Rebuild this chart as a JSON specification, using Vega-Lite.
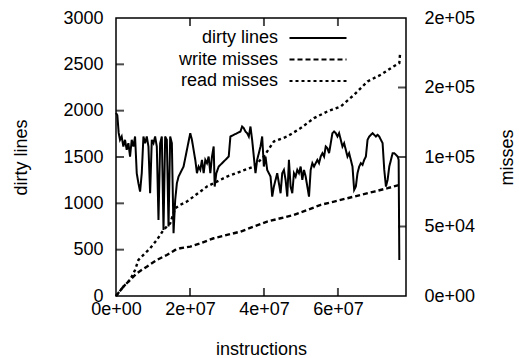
{
  "$schema": "https://vega.github.io/schema/vega-lite/v6.json",
  "autosize": {"type": "none"},
  "padding": {"left": 116, "top": 18, "right": 113, "bottom": 62},
  "width": 290,
  "height": 278,
  "background": "white",
  "config": {
    "view": {"stroke": "black", "strokeWidth": 1.5},
    "axis": {
      "domain": false, "ticks": false, "grid": false,
      "labelFont": "Liberation Sans", "labelFontSize": 18, "labelColor": "black",
      "titleFont": "Liberation Sans", "titleFontSize": 18, "titleFontWeight": "normal", "titleColor": "black",
      "labelFlush": false, "labelOverlap": false
    },
    "legend": {
      "labelFont": "Liberation Sans", "labelFontSize": 18, "labelColor": "black", "labelLimit": 300
    }
  },
  "data": {"values": [
    {"series":"dirty lines","instructions":0,"value":1975},
    {"series":"dirty lines","instructions":361720,"value":1950},
    {"series":"dirty lines","instructions":723440,"value":1760},
    {"series":"dirty lines","instructions":1085160,"value":1685},
    {"series":"dirty lines","instructions":1537310,"value":1721},
    {"series":"dirty lines","instructions":1989460,"value":1613},
    {"series":"dirty lines","instructions":2441610,"value":1685},
    {"series":"dirty lines","instructions":2893760,"value":1577},
    {"series":"dirty lines","instructions":3345910,"value":1649},
    {"series":"dirty lines","instructions":3798060,"value":1505},
    {"series":"dirty lines","instructions":4250210,"value":1685},
    {"series":"dirty lines","instructions":4702360,"value":1613},
    {"series":"dirty lines","instructions":5154510,"value":1721},
    {"series":"dirty lines","instructions":5606660,"value":1325},
    {"series":"dirty lines","instructions":6058810,"value":1217},
    {"series":"dirty lines","instructions":6510960,"value":1127},
    {"series":"dirty lines","instructions":6963110,"value":1325},
    {"series":"dirty lines","instructions":7415260,"value":1721},
    {"series":"dirty lines","instructions":7867410,"value":1649},
    {"series":"dirty lines","instructions":8319560,"value":1721},
    {"series":"dirty lines","instructions":8771710,"value":1613},
    {"series":"dirty lines","instructions":9223860,"value":1109},
    {"series":"dirty lines","instructions":9676010,"value":1685},
    {"series":"dirty lines","instructions":10128160,"value":1649},
    {"series":"dirty lines","instructions":10580310,"value":1721},
    {"series":"dirty lines","instructions":11032460,"value":1613},
    {"series":"dirty lines","instructions":11484610,"value":821},
    {"series":"dirty lines","instructions":11936760,"value":1649},
    {"series":"dirty lines","instructions":12388910,"value":1721},
    {"series":"dirty lines","instructions":12841060,"value":713},
    {"series":"dirty lines","instructions":13293210,"value":1721},
    {"series":"dirty lines","instructions":13745360,"value":1685},
    {"series":"dirty lines","instructions":14197510,"value":749},
    {"series":"dirty lines","instructions":14649660,"value":1721},
    {"series":"dirty lines","instructions":15101810,"value":1649},
    {"series":"dirty lines","instructions":15553960,"value":677},
    {"series":"dirty lines","instructions":16006110,"value":1037},
    {"series":"dirty lines","instructions":16458260,"value":1217},
    {"series":"dirty lines","instructions":16910410,"value":1289},
    {"series":"dirty lines","instructions":17362560,"value":1325},
    {"series":"dirty lines","instructions":18266860,"value":1397},
    {"series":"dirty lines","instructions":19171160,"value":1577},
    {"series":"dirty lines","instructions":20075460,"value":1757},
    {"series":"dirty lines","instructions":20527610,"value":1685},
    {"series":"dirty lines","instructions":20979760,"value":1577},
    {"series":"dirty lines","instructions":21431910,"value":1469},
    {"series":"dirty lines","instructions":21884060,"value":1325},
    {"series":"dirty lines","instructions":22336210,"value":1397},
    {"series":"dirty lines","instructions":22788360,"value":1361},
    {"series":"dirty lines","instructions":23240510,"value":1469},
    {"series":"dirty lines","instructions":23692660,"value":1325},
    {"series":"dirty lines","instructions":24144810,"value":1469},
    {"series":"dirty lines","instructions":24596960,"value":1433},
    {"series":"dirty lines","instructions":25049110,"value":1505},
    {"series":"dirty lines","instructions":25501260,"value":1325},
    {"series":"dirty lines","instructions":25953410,"value":1505},
    {"series":"dirty lines","instructions":26405560,"value":1613},
    {"series":"dirty lines","instructions":26676850,"value":1181},
    {"series":"dirty lines","instructions":27129000,"value":1325},
    {"series":"dirty lines","instructions":27762010,"value":1397},
    {"series":"dirty lines","instructions":28666310,"value":1433},
    {"series":"dirty lines","instructions":29570610,"value":1469},
    {"series":"dirty lines","instructions":30474910,"value":1505},
    {"series":"dirty lines","instructions":30927060,"value":1721},
    {"series":"dirty lines","instructions":31831360,"value":1739},
    {"series":"dirty lines","instructions":32735660,"value":1757},
    {"series":"dirty lines","instructions":33639960,"value":1775},
    {"series":"dirty lines","instructions":34092110,"value":1829},
    {"series":"dirty lines","instructions":34544260,"value":1811},
    {"series":"dirty lines","instructions":34996410,"value":1775},
    {"series":"dirty lines","instructions":35448560,"value":1757},
    {"series":"dirty lines","instructions":35900710,"value":1721},
    {"series":"dirty lines","instructions":36352860,"value":1829},
    {"series":"dirty lines","instructions":36805010,"value":1685},
    {"series":"dirty lines","instructions":37257160,"value":1505},
    {"series":"dirty lines","instructions":37709310,"value":1325},
    {"series":"dirty lines","instructions":38161460,"value":1469},
    {"series":"dirty lines","instructions":38613610,"value":1541},
    {"series":"dirty lines","instructions":39065760,"value":1613},
    {"series":"dirty lines","instructions":39517910,"value":1721},
    {"series":"dirty lines","instructions":39970060,"value":1397},
    {"series":"dirty lines","instructions":40422210,"value":1505},
    {"series":"dirty lines","instructions":40874360,"value":1361},
    {"series":"dirty lines","instructions":41326510,"value":1325},
    {"series":"dirty lines","instructions":41778660,"value":1289},
    {"series":"dirty lines","instructions":42230810,"value":1073},
    {"series":"dirty lines","instructions":42682960,"value":1181},
    {"series":"dirty lines","instructions":43135110,"value":1253},
    {"series":"dirty lines","instructions":43587260,"value":1325},
    {"series":"dirty lines","instructions":44039410,"value":1217},
    {"series":"dirty lines","instructions":44491560,"value":1109},
    {"series":"dirty lines","instructions":44943710,"value":1325},
    {"series":"dirty lines","instructions":45395860,"value":1361},
    {"series":"dirty lines","instructions":45848010,"value":1253},
    {"series":"dirty lines","instructions":46300160,"value":1073},
    {"series":"dirty lines","instructions":46752310,"value":1469},
    {"series":"dirty lines","instructions":47204460,"value":1181},
    {"series":"dirty lines","instructions":47656610,"value":1109},
    {"series":"dirty lines","instructions":48108760,"value":1325},
    {"series":"dirty lines","instructions":48560910,"value":1289},
    {"series":"dirty lines","instructions":49013060,"value":1361},
    {"series":"dirty lines","instructions":49465210,"value":1325},
    {"series":"dirty lines","instructions":49917360,"value":1397},
    {"series":"dirty lines","instructions":50369510,"value":1253},
    {"series":"dirty lines","instructions":50821660,"value":1361},
    {"series":"dirty lines","instructions":51273810,"value":1289},
    {"series":"dirty lines","instructions":51725960,"value":1181},
    {"series":"dirty lines","instructions":52178110,"value":1073},
    {"series":"dirty lines","instructions":52630260,"value":1361},
    {"series":"dirty lines","instructions":53082410,"value":1433},
    {"series":"dirty lines","instructions":53534560,"value":1397},
    {"series":"dirty lines","instructions":53986710,"value":1433},
    {"series":"dirty lines","instructions":54438860,"value":1469},
    {"series":"dirty lines","instructions":54891010,"value":1433},
    {"series":"dirty lines","instructions":55343160,"value":1505},
    {"series":"dirty lines","instructions":55795310,"value":1541},
    {"series":"dirty lines","instructions":56247460,"value":1505},
    {"series":"dirty lines","instructions":56699610,"value":1613},
    {"series":"dirty lines","instructions":57151760,"value":1595},
    {"series":"dirty lines","instructions":57603910,"value":1541},
    {"series":"dirty lines","instructions":58056060,"value":1649},
    {"series":"dirty lines","instructions":58508210,"value":1757},
    {"series":"dirty lines","instructions":58960360,"value":1775},
    {"series":"dirty lines","instructions":59412510,"value":1757},
    {"series":"dirty lines","instructions":59864660,"value":1721},
    {"series":"dirty lines","instructions":60316810,"value":1757},
    {"series":"dirty lines","instructions":60768960,"value":1685},
    {"series":"dirty lines","instructions":61221110,"value":1613},
    {"series":"dirty lines","instructions":61673260,"value":1649},
    {"series":"dirty lines","instructions":62125410,"value":1577},
    {"series":"dirty lines","instructions":62577560,"value":1505},
    {"series":"dirty lines","instructions":63029710,"value":1541},
    {"series":"dirty lines","instructions":63481860,"value":1469},
    {"series":"dirty lines","instructions":63934010,"value":1397},
    {"series":"dirty lines","instructions":64386160,"value":1145},
    {"series":"dirty lines","instructions":64838310,"value":1181},
    {"series":"dirty lines","instructions":65290460,"value":1325},
    {"series":"dirty lines","instructions":65742610,"value":1397},
    {"series":"dirty lines","instructions":66194760,"value":1433},
    {"series":"dirty lines","instructions":66646910,"value":1415},
    {"series":"dirty lines","instructions":67099060,"value":1469},
    {"series":"dirty lines","instructions":67551210,"value":1505},
    {"series":"dirty lines","instructions":68003360,"value":1685},
    {"series":"dirty lines","instructions":68455510,"value":1721},
    {"series":"dirty lines","instructions":68907660,"value":1739},
    {"series":"dirty lines","instructions":69359810,"value":1757},
    {"series":"dirty lines","instructions":69811960,"value":1739},
    {"series":"dirty lines","instructions":70264110,"value":1721},
    {"series":"dirty lines","instructions":70716260,"value":1739},
    {"series":"dirty lines","instructions":71168410,"value":1721},
    {"series":"dirty lines","instructions":71620560,"value":1685},
    {"series":"dirty lines","instructions":72072710,"value":1649},
    {"series":"dirty lines","instructions":72524860,"value":1361},
    {"series":"dirty lines","instructions":72977010,"value":1181},
    {"series":"dirty lines","instructions":73429160,"value":1253},
    {"series":"dirty lines","instructions":73881310,"value":1397},
    {"series":"dirty lines","instructions":74333460,"value":1469},
    {"series":"dirty lines","instructions":74785610,"value":1541},
    {"series":"dirty lines","instructions":75237760,"value":1541},
    {"series":"dirty lines","instructions":75689910,"value":1523},
    {"series":"dirty lines","instructions":76142060,"value":1505},
    {"series":"dirty lines","instructions":76413350,"value":1469},
    {"series":"dirty lines","instructions":76594210,"value":389},

    {"series":"write misses","instructions":0,"value":0},
    {"series":"write misses","instructions":1989460,"value":6723},
    {"series":"write misses","instructions":3798060,"value":11525},
    {"series":"write misses","instructions":5606660,"value":16327},
    {"series":"write misses","instructions":8319560,"value":21129},
    {"series":"write misses","instructions":11032460,"value":25931},
    {"series":"write misses","instructions":13745360,"value":29532},
    {"series":"write misses","instructions":16006110,"value":33134},
    {"series":"write misses","instructions":17362560,"value":34334},
    {"series":"write misses","instructions":20075460,"value":35535},
    {"series":"write misses","instructions":22788360,"value":37936},
    {"series":"write misses","instructions":26405560,"value":41537},
    {"series":"write misses","instructions":30022760,"value":43938},
    {"series":"write misses","instructions":33639960,"value":46339},
    {"series":"write misses","instructions":37257160,"value":49941},
    {"series":"write misses","instructions":40874360,"value":53542},
    {"series":"write misses","instructions":44491560,"value":55943},
    {"series":"write misses","instructions":48108760,"value":58344},
    {"series":"write misses","instructions":51725960,"value":61946},
    {"series":"write misses","instructions":55343160,"value":65547},
    {"series":"write misses","instructions":58960360,"value":67948},
    {"series":"write misses","instructions":62577560,"value":70349},
    {"series":"write misses","instructions":66194760,"value":72750},
    {"series":"write misses","instructions":69811960,"value":75151},
    {"series":"write misses","instructions":73429160,"value":77552},
    {"series":"write misses","instructions":76594210,"value":79953},

    {"series":"read misses","instructions":0,"value":0},
    {"series":"read misses","instructions":1989460,"value":6723},
    {"series":"read misses","instructions":3798060,"value":11525},
    {"series":"read misses","instructions":5154510,"value":18728},
    {"series":"read misses","instructions":6058810,"value":25931},
    {"series":"read misses","instructions":7415260,"value":29532},
    {"series":"read misses","instructions":9223860,"value":34334},
    {"series":"read misses","instructions":11032460,"value":40337},
    {"series":"read misses","instructions":12841060,"value":47540},
    {"series":"read misses","instructions":14649660,"value":52342},
    {"series":"read misses","instructions":15553960,"value":59545},
    {"series":"read misses","instructions":16006110,"value":63146},
    {"series":"read misses","instructions":17362560,"value":65547},
    {"series":"read misses","instructions":19171160,"value":67948},
    {"series":"read misses","instructions":20979760,"value":71550},
    {"series":"read misses","instructions":22788360,"value":75151},
    {"series":"read misses","instructions":24596960,"value":78753},
    {"series":"read misses","instructions":26405560,"value":81154},
    {"series":"read misses","instructions":30022760,"value":85956},
    {"series":"read misses","instructions":33639960,"value":89557},
    {"series":"read misses","instructions":37257160,"value":93159},
    {"series":"read misses","instructions":39970060,"value":100362},
    {"series":"read misses","instructions":42682960,"value":111166},
    {"series":"read misses","instructions":46300160,"value":114768},
    {"series":"read misses","instructions":49917360,"value":120770},
    {"series":"read misses","instructions":53534560,"value":127973},
    {"series":"read misses","instructions":57151760,"value":132775},
    {"series":"read misses","instructions":60768960,"value":136377},
    {"series":"read misses","instructions":64386160,"value":144780},
    {"series":"read misses","instructions":68003360,"value":154384},
    {"series":"read misses","instructions":71620560,"value":159186},
    {"series":"read misses","instructions":74333460,"value":163988},
    {"series":"read misses","instructions":76594210,"value":167589},
    {"series":"read misses","instructions":76775070,"value":173592}
  ]},
  "layer": [
    {
      "layer": [
        {
          "transform": [{"filter": "datum.series === 'dirty lines'"}],
          "mark": {"type": "line", "color": "black", "strokeWidth": 2},
          "encoding": {
            "x": {
              "field": "instructions", "type": "quantitative",
              "scale": {"domain": [0, 78400000], "nice": false, "zero": false},
              "axis": {
                "orient": "bottom", "values": [0, 20000000, 40000000, 60000000],
                "labelExpr": "replace(format(datum.value, '.0e'), 'e+', 'e+0')",
                "labelPadding": 4, "title": "instructions",
                "titleBaseline": "alphabetic", "titleY": 58, "titleX": 145
              }
            },
            "y": {
              "field": "value", "type": "quantitative",
              "scale": {"domain": [0, 3000], "nice": false},
              "axis": {
                "orient": "left", "values": [0, 500, 1000, 1500, 2000, 2500, 3000],
                "format": "d", "labelPadding": 13, "title": "dirty lines",
                "titleAngle": 270, "titleBaseline": "alphabetic", "titleAlign": "center",
                "titleX": -90, "titleY": 139
              }
            },
            "strokeDash": {
              "field": "series", "type": "nominal",
              "scale": {"domain": ["dirty lines", "write misses", "read misses"], "range": [[1, 0], [5, 3], [3, 3]]},
              "legend": {
                "title": null, "orient": "none", "legendX": 191, "legendY": 9,
                "symbolType": "M-3,0H3", "symbolSize": 361, "symbolStrokeWidth": 2.2, "symbolStrokeColor": "black",
                "symbolFillColor": "transparent",
                "rowPadding": 1.5, "padding": 0, "offset": 0,
                "labelAlign": "right", "labelOffset": -51, "labelBaseline": "middle"
              }
            }
          }
        },
        {
          "data": {"values": [{"tick": 500}, {"tick": 1000}, {"tick": 1500}, {"tick": 2000}, {"tick": 2500}]},
          "mark": {"type": "tick", "orient": "horizontal", "color": "black", "size": 16, "thickness": 2, "clip": true},
          "encoding": {
            "x": {"datum": 0, "type": "quantitative"},
            "y": {"field": "tick", "type": "quantitative"}
          }
        },
        {
          "data": {"values": [{"tick": 20000000}, {"tick": 40000000}, {"tick": 60000000}]},
          "mark": {"type": "tick", "orient": "vertical", "color": "black", "size": 16, "thickness": 2, "clip": true},
          "encoding": {
            "x": {"field": "tick", "type": "quantitative"},
            "y": {"datum": 0, "type": "quantitative"}
          }
        },
        {
          "data": {"values": [{"tick": 20000000}, {"tick": 40000000}, {"tick": 60000000}]},
          "mark": {"type": "tick", "orient": "vertical", "color": "black", "size": 16, "thickness": 2, "clip": true},
          "encoding": {
            "x": {"field": "tick", "type": "quantitative"},
            "y": {"datum": 3000, "type": "quantitative"}
          }
        }
      ]
    },
    {
      "layer": [
        {
          "transform": [{"filter": "datum.series !== 'dirty lines'"}],
          "mark": {"type": "line", "color": "black", "strokeWidth": 2.4},
          "encoding": {
            "x": {
              "field": "instructions", "type": "quantitative",
              "scale": {"domain": [0, 78400000], "nice": false, "zero": false},
              "axis": {
                "orient": "bottom", "values": [0, 20000000, 40000000, 60000000],
                "labelExpr": "replace(format(datum.value, '.0e'), 'e+', 'e+0')",
                "labelPadding": 4, "title": "instructions",
                "titleBaseline": "alphabetic", "titleY": 58, "titleX": 145
              }
            },
            "y": {
              "field": "value", "type": "quantitative",
              "scale": {"domain": [0, 200000], "nice": false},
              "axis": {
                "orient": "right", "values": [0, 50000, 100000, 150000, 200000],
                "labelExpr": "replace(format(datum.value, '.0e'), 'e+', 'e+0')",
                "labelPadding": 18, "title": "misses",
                "titleAngle": 270, "titleBaseline": "alphabetic", "titleAlign": "center",
                "titleX": 106, "titleY": 139
              }
            },
            "strokeDash": {
              "field": "series", "type": "nominal",
              "scale": {"domain": ["dirty lines", "write misses", "read misses"], "range": [[1, 0], [5, 3], [3, 3]]},
              "legend": {
                "title": null, "orient": "none", "legendX": 191, "legendY": 9,
                "symbolType": "M-3,0H3", "symbolSize": 361, "symbolStrokeWidth": 2.2, "symbolStrokeColor": "black",
                "symbolFillColor": "transparent",
                "rowPadding": 1.5, "padding": 0, "offset": 0,
                "labelAlign": "right", "labelOffset": -51, "labelBaseline": "middle"
              }
            }
          }
        },
        {
          "data": {"values": [{"tick": 50000}, {"tick": 100000}, {"tick": 150000}]},
          "mark": {"type": "tick", "orient": "horizontal", "color": "black", "size": 16, "thickness": 2, "clip": true},
          "encoding": {
            "x": {"datum": 78400000, "type": "quantitative"},
            "y": {"field": "tick", "type": "quantitative"}
          }
        }
      ]
    }
  ],
  "resolve": {"scale": {"y": "independent"}, "axis": {"y": "independent"}}
}
